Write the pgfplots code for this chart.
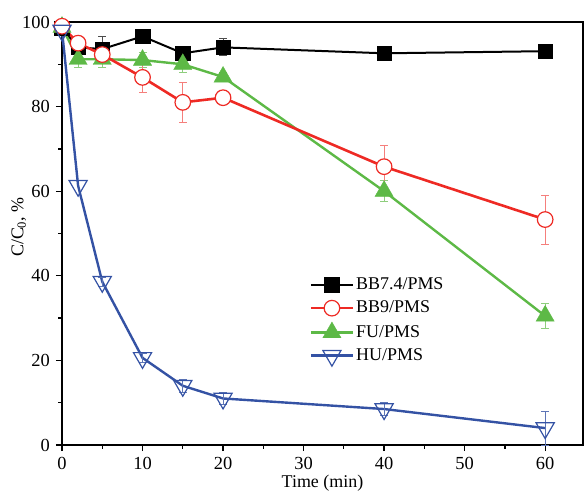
\documentclass[border=0pt]{standalone}
\usepackage{fontspec}
\setmainfont{Liberation Serif}
\usepackage{pgfplots}
\pgfplotsset{compat=1.18}
\definecolor{cred}{HTML}{EE2A24}
\definecolor{cgreen}{HTML}{5DB946}
\definecolor{cblue}{HTML}{3452A4}
\begin{document}
\fontsize{18}{21}\selectfont
\begin{tikzpicture}
\begin{axis}[
  at={(0,0)}, anchor=south west,
  scale only axis, width=521bp, height=423bp,
  xmin=0, xmax=64.7, ymin=0, ymax=100,
  xtick={0,10,...,60}, ytick={0,20,...,100},
  minor x tick num=1, minor y tick num=1,
  xtick pos=left, ytick pos=left,
  tick align=outside,
  major tick length=6bp, minor tick length=3.5bp,
  every tick/.style={black, line width=1.3bp},
  axis line style={line width=1.8bp},
  /pgf/number format/assume math mode=true,
  tick label style={font=\fontsize{18.5}{21}\selectfont},
  xlabel={Time (min)},
  ylabel={C/C\textsubscript{0}, \%},
  xlabel style={at={(axis description cs:0.5,-0.069)}, anchor=north, inner sep=1bp},
  ylabel style={at={(axis description cs:-0.083,0.515)}, anchor=center},
  clip=false,
  legend style={at={(0.473,0.403)}, anchor=north west, draw=none, fill=none,
    font=\fontsize{18}{21}\selectfont, row sep=4.6bp, inner sep=1bp},
  legend cell align=left,
  legend image code/.code={\draw[mark repeat=2,mark phase=2] plot coordinates {(0bp,0bp) (21bp,0bp) (42bp,0bp)};},
  bb/.style={black, line width=2bp, mark=square*, mark size=7.3bp, mark options={solid, fill=black, line width=0.5bp}},
  rd/.style={cred, line width=2.6bp, mark=*, mark size=7.8bp, mark options={solid, fill=white, line width=1.2bp}},
  gr/.style={cgreen, line width=2.4bp, mark=triangle*, mark size=10.5bp, mark options={solid, fill=cgreen, line width=0.4bp}},
  bl/.style={cblue, line width=2.4bp, mark=triangle, mark size=10.5bp, mark options={solid, rotate=180, fill=white, line width=1.2bp}},
  eb/.style={draw=none, mark=none, forget plot, error bars/.cd, y dir=both, y explicit,
    error bar style={#1, line width=0.9bp},
    error mark options={#1, rotate=90, mark size=4bp, line width=0.9bp}},
]
% BB7.4/PMS
\addplot[bb, forget plot] coordinates {(0,98.5) (2,94) (5,93.6) (10,96.6) (15,92.6) (20,94) (40,92.6) (60,93.1)};
\addplot[eb={black!70}] coordinates {
 (2,94) +- (0,1.5) (5,93.6) +- (0,3) (10,96.6) +- (0,1) (15,92.6) +- (0,1) (20,94) +- (0,2)};
% FU/PMS
\addplot[gr, forget plot] coordinates {(0,98.8) (2,91.2) (5,91.2) (10,91) (15,90) (20,87) (40,60) (60,30.5)};
\addplot[eb={cgreen!70}] coordinates {
 (2,91.2) +- (0,2) (5,91.2) +- (0,2) (10,91) +- (0,1.8) (15,90) +- (0,2) (20,87) +- (0,1) (40,60) +- (0,2.5) (60,30.5) +- (0,3)};
% BB9/PMS
\addplot[rd, forget plot] coordinates {(0,99) (2,95) (5,92.3) (10,86.9) (15,81) (20,82.1) (40,65.8) (60,53.3)};
\addplot[eb={cred!60}] coordinates {
 (2,95) +- (0,1) (5,92.3) +- (0,1) (10,86.9) +- (0,3.6) (15,81) +- (0,4.8) (20,82.1) +- (0,1.3) (40,65.8) +- (0,5) (60,53.3) +- (0,5.8)};
% HU/PMS
\addplot[bl, forget plot] coordinates {(0,98) (2,61.3) (5,38.6) (10,20.6) (15,14) (20,11) (40,8.5) (60,4)};
\addplot[eb={cblue!80}] coordinates {
 (5,38.6) +- (0,1) (10,20.6) +- (0,1) (15,14) +- (0,1.5) (20,11) +- (0,1.5) (40,8.5) +- (0,1.5) (60,4) +- (0,4)};
\addlegendimage{bb}
\addlegendentry{BB7.4/PMS}
\addlegendimage{rd}
\addlegendentry{BB9/PMS}
\addlegendimage{gr}
\addlegendentry{FU/PMS}
\addlegendimage{bl}
\addlegendentry{HU/PMS}
\end{axis}
\pgfresetboundingbox
\path (-62bp,-53bp) rectangle (522bp,445bp);
\end{tikzpicture}
\end{document}
